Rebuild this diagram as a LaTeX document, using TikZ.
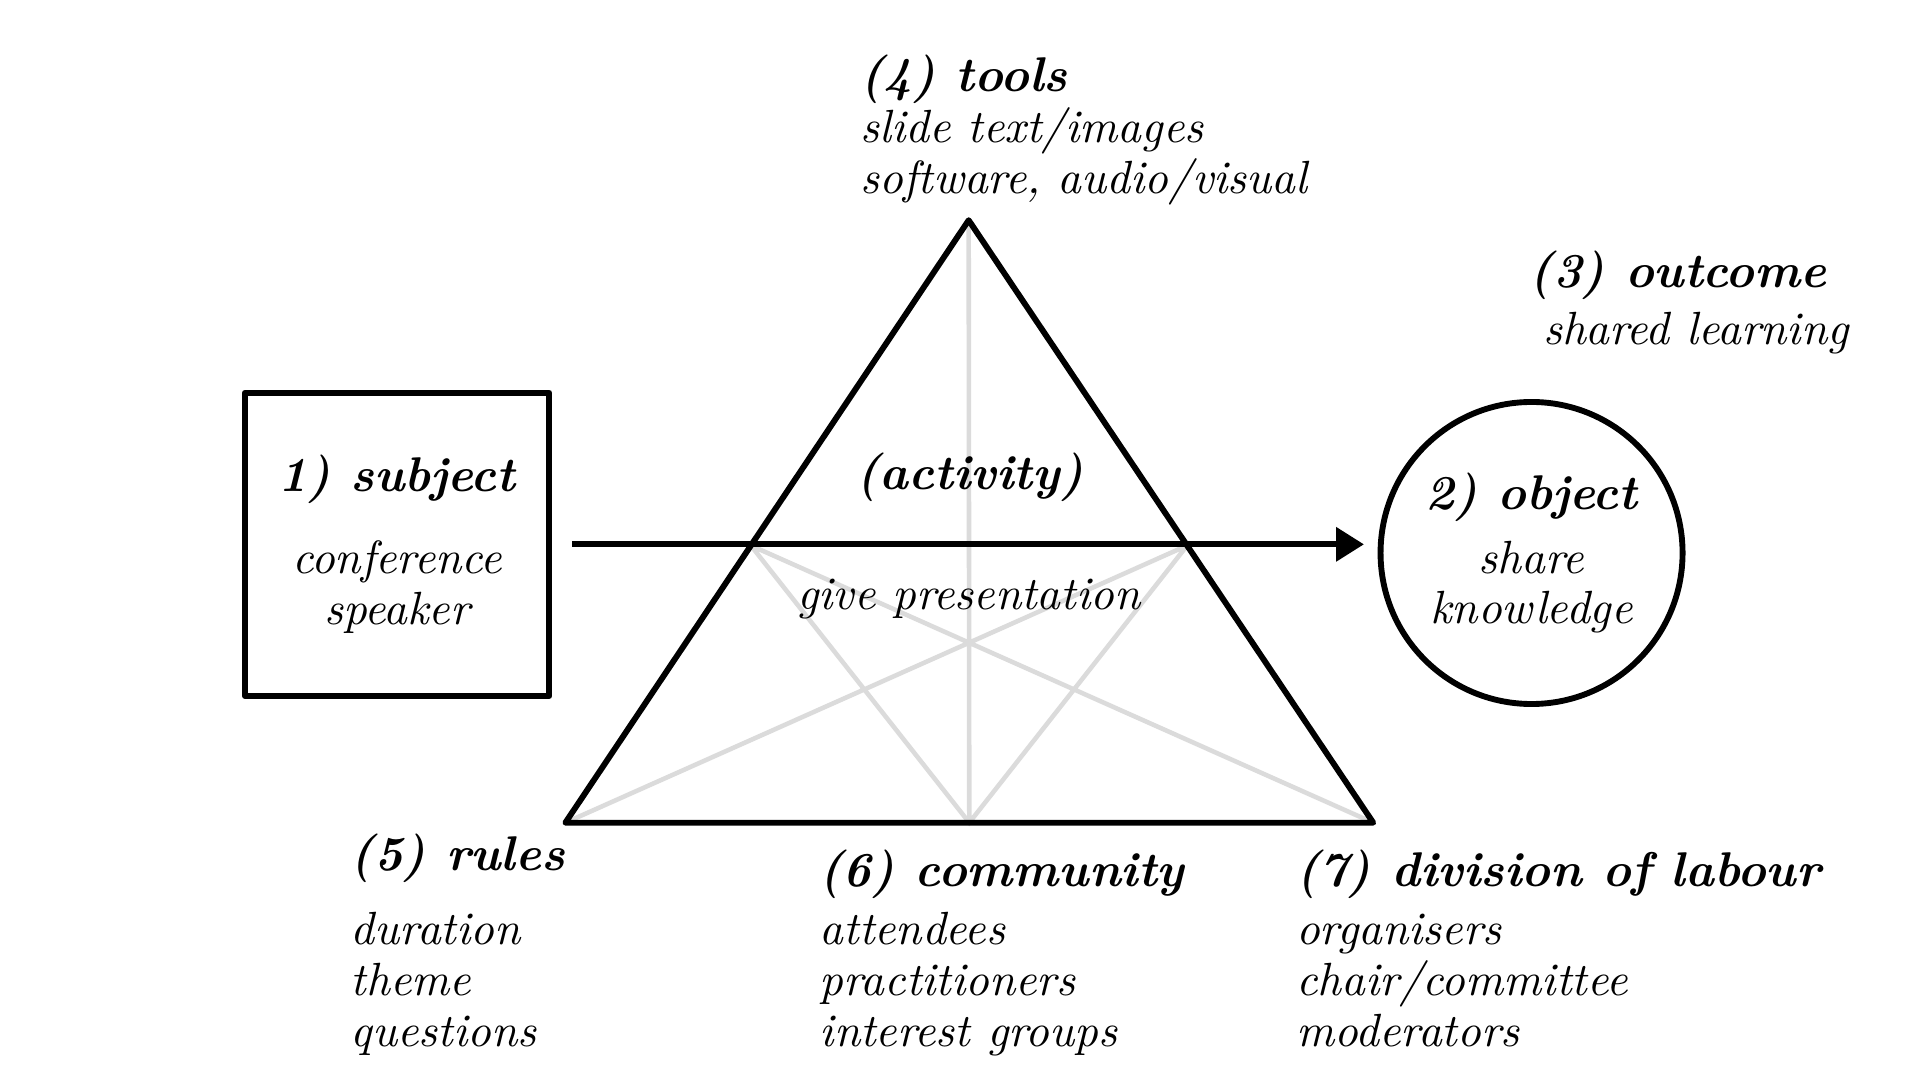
\documentclass[tikz,border=0pt]{standalone}
\usetikzlibrary{positioning,arrows.meta,calc}
\newcommand\headfont{\fontsize{11.2}{13}\selectfont\bfseries\itshape}
\newcommand\bodyfont{\fontsize{10.7}{11.7}\selectfont\itshape}

\begin{document}
\begin{tikzpicture}[x=0.01cm, y=-0.01cm,
  every node/.style = {inner sep=0pt, align=left, font=\bodyfont},
  edge/.style = {line width=1.35pt, line join=round},
  guide/.style = {line width=1.05pt, black!14},
  arr/.style = {line width=1.4pt, -{Triangle[length=6.4pt,width=7.6pt]}}]
  \useasboundingbox (0,0) rectangle (1552,873);
  \coordinate (apex) at (783,178);
  \coordinate (bl) at (457,665);
  \coordinate (br) at (1110,665);
  \coordinate (bm) at ($(bl)!0.5!(br)$);
  \coordinate (ml) at ($(apex)!0.54!(bl)$);
  \coordinate (mr) at ($(apex)!0.54!(br)$);
  \draw[guide] (apex) -- (bm) (ml) -- (bm) -- (mr) (ml) -- (br) (mr) -- (bl);
  \draw[edge] (apex) -- (bl) -- (br) -- cycle;
  \node[draw, edge, align=center, minimum width=2.46cm, minimum height=2.45cm]
    (subject) at (321,440) {{\headfont 1) subject}\\[7pt]conference\\speaker};
  \node[draw, edge, circle, align=center, minimum size=2.44cm]
    (object) at (1238,447) {{\headfont 2) object}\\[3pt]share\\knowledge};
  \draw[arr, shorten <=0.16cm, shorten >=0.11cm] (subject.east) -- (subject.east -| object.west);
  \node[font=\headfont] (activity) at (784,386) {(activity)};
  \node (give) at (783,484) {give presentation};
  \node[anchor=north west] (tools) at (695,44)
    {{\headfont (4) tools}\\slide text/images\\software, audio/visual};
  \node[anchor=north west] (outcome) at (1236,202)
    {{\headfont (3) outcome}\\[1.5pt]\hspace*{3pt}shared learning};
  \node[anchor=north west] (rules) at (283,673)
    {{\headfont (5) rules}\\[5.4pt]duration\\theme\\questions};
  \node[anchor=north west] (community) at (662,686)
    {{\headfont (6) community}\\[1.7pt]attendees\\practitioners\\interest groups};
  \node[anchor=north west] (labour) at (1047,686)
    {{\headfont (7) division of labour}\\[1.7pt]organisers\\chair/committee\\moderators};
\end{tikzpicture}
\end{document}
